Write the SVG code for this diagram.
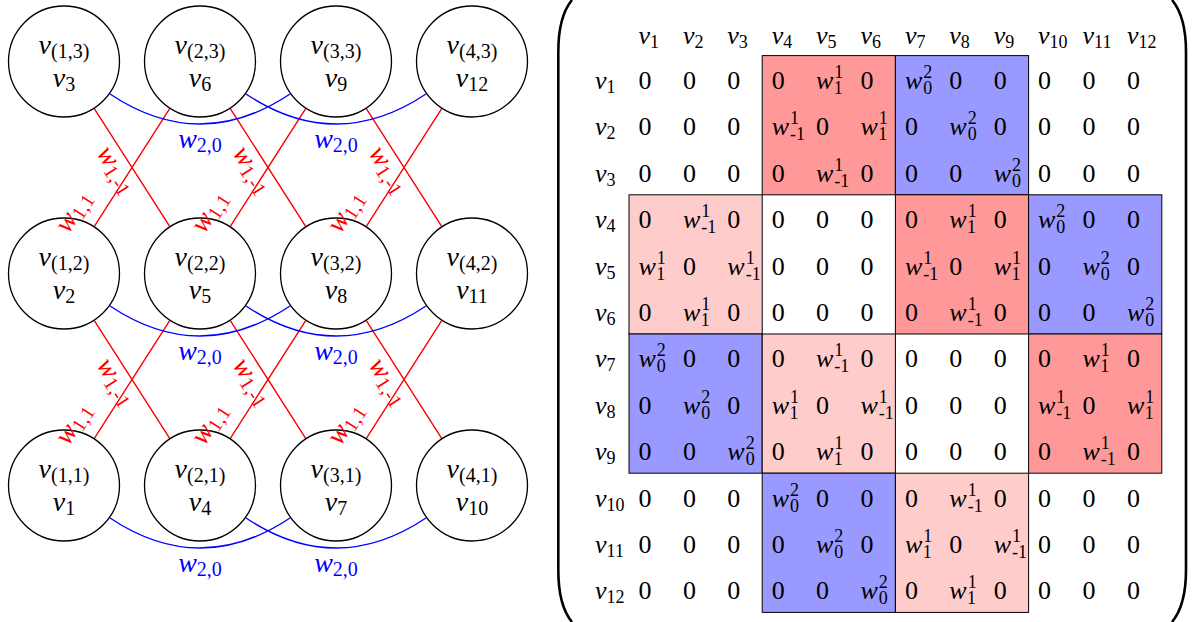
<svg xmlns="http://www.w3.org/2000/svg" width="1195" height="622" viewBox="0 0 1195 622">
<style>
.t{font-family:"Liberation Serif",serif;font-size:26px;fill:#000}
.i{font-style:italic}
.s{font-size:18px;font-style:normal}
.lt{font-family:"Liberation Serif",serif;font-size:28px}
.ls{font-size:20px;font-style:normal}
.nd{fill:#fff;stroke:#000;stroke-width:1.3}
.rl{stroke:#f00;stroke-width:1.4;fill:none}
.bl{stroke:#00f;stroke-width:1.4;fill:none}
.rt{fill:#f00}
.bt{fill:#00f}
.bx{stroke:#000;stroke-width:1}
.dr{fill:#ff9999}
.lb{fill:#9999ff}
.lp{fill:#ffcccc}
.par{fill:none;stroke:#000;stroke-width:2.6}
</style>
<rect width="1195" height="622" fill="#fff"/>
<g id="connectors">
<path class="rl" d="M94,108.2L170,226.8M170,108.2L94,226.8M230,108.2L306,226.8M306,108.2L230,226.8M366,108.2L442,226.8M442,108.2L366,226.8"/>
<path class="rl" d="M94,320.2L170,438.8M170,320.2L94,438.8M230,320.2L306,438.8M306,320.2L230,438.8M366,320.2L442,438.8M442,320.2L366,438.8"/>
<path class="bl" d="M110,94Q200,154 290,94M246,94Q336,154 426,94"/>
<path class="bl" d="M110,306Q200,366 290,306M246,306Q336,366 426,306"/>
<path class="bl" d="M110,518Q200,578 290,518M246,518Q336,578 426,518"/>
</g>
<g id="node-1-3"><circle class="nd" cx="64" cy="61.5" r="55.5"/><text class="lt" x="64" y="53.5" text-anchor="middle"><tspan class="i">v</tspan><tspan class="ls" dy="4">(1,3)</tspan></text><text class="lt" x="64" y="86.5" text-anchor="middle"><tspan class="i">v</tspan><tspan class="ls" dy="4">3</tspan></text></g>
<g id="node-2-3"><circle class="nd" cx="200" cy="61.5" r="55.5"/><text class="lt" x="200" y="53.5" text-anchor="middle"><tspan class="i">v</tspan><tspan class="ls" dy="4">(2,3)</tspan></text><text class="lt" x="200" y="86.5" text-anchor="middle"><tspan class="i">v</tspan><tspan class="ls" dy="4">6</tspan></text></g>
<g id="node-3-3"><circle class="nd" cx="336" cy="61.5" r="55.5"/><text class="lt" x="336" y="53.5" text-anchor="middle"><tspan class="i">v</tspan><tspan class="ls" dy="4">(3,3)</tspan></text><text class="lt" x="336" y="86.5" text-anchor="middle"><tspan class="i">v</tspan><tspan class="ls" dy="4">9</tspan></text></g>
<g id="node-4-3"><circle class="nd" cx="472" cy="61.5" r="55.5"/><text class="lt" x="472" y="53.5" text-anchor="middle"><tspan class="i">v</tspan><tspan class="ls" dy="4">(4,3)</tspan></text><text class="lt" x="472" y="86.5" text-anchor="middle"><tspan class="i">v</tspan><tspan class="ls" dy="4">12</tspan></text></g>
<g id="node-1-2"><circle class="nd" cx="64" cy="273.5" r="55.5"/><text class="lt" x="64" y="265.5" text-anchor="middle"><tspan class="i">v</tspan><tspan class="ls" dy="4">(1,2)</tspan></text><text class="lt" x="64" y="298.5" text-anchor="middle"><tspan class="i">v</tspan><tspan class="ls" dy="4">2</tspan></text></g>
<g id="node-2-2"><circle class="nd" cx="200" cy="273.5" r="55.5"/><text class="lt" x="200" y="265.5" text-anchor="middle"><tspan class="i">v</tspan><tspan class="ls" dy="4">(2,2)</tspan></text><text class="lt" x="200" y="298.5" text-anchor="middle"><tspan class="i">v</tspan><tspan class="ls" dy="4">5</tspan></text></g>
<g id="node-3-2"><circle class="nd" cx="336" cy="273.5" r="55.5"/><text class="lt" x="336" y="265.5" text-anchor="middle"><tspan class="i">v</tspan><tspan class="ls" dy="4">(3,2)</tspan></text><text class="lt" x="336" y="298.5" text-anchor="middle"><tspan class="i">v</tspan><tspan class="ls" dy="4">8</tspan></text></g>
<g id="node-4-2"><circle class="nd" cx="472" cy="273.5" r="55.5"/><text class="lt" x="472" y="265.5" text-anchor="middle"><tspan class="i">v</tspan><tspan class="ls" dy="4">(4,2)</tspan></text><text class="lt" x="472" y="298.5" text-anchor="middle"><tspan class="i">v</tspan><tspan class="ls" dy="4">11</tspan></text></g>
<g id="node-1-1"><circle class="nd" cx="64" cy="485.5" r="55.5"/><text class="lt" x="64" y="477.5" text-anchor="middle"><tspan class="i">v</tspan><tspan class="ls" dy="4">(1,1)</tspan></text><text class="lt" x="64" y="510.5" text-anchor="middle"><tspan class="i">v</tspan><tspan class="ls" dy="4">1</tspan></text></g>
<g id="node-2-1"><circle class="nd" cx="200" cy="485.5" r="55.5"/><text class="lt" x="200" y="477.5" text-anchor="middle"><tspan class="i">v</tspan><tspan class="ls" dy="4">(2,1)</tspan></text><text class="lt" x="200" y="510.5" text-anchor="middle"><tspan class="i">v</tspan><tspan class="ls" dy="4">4</tspan></text></g>
<g id="node-3-1"><circle class="nd" cx="336" cy="485.5" r="55.5"/><text class="lt" x="336" y="477.5" text-anchor="middle"><tspan class="i">v</tspan><tspan class="ls" dy="4">(3,1)</tspan></text><text class="lt" x="336" y="510.5" text-anchor="middle"><tspan class="i">v</tspan><tspan class="ls" dy="4">7</tspan></text></g>
<g id="node-4-1"><circle class="nd" cx="472" cy="485.5" r="55.5"/><text class="lt" x="472" y="477.5" text-anchor="middle"><tspan class="i">v</tspan><tspan class="ls" dy="4">(4,1)</tspan></text><text class="lt" x="472" y="510.5" text-anchor="middle"><tspan class="i">v</tspan><tspan class="ls" dy="4">10</tspan></text></g>
<g id="connector-labels">
<g class="lt rt" text-anchor="middle">
<text transform="translate(113,172) rotate(57.3)" y="4"><tspan class="i">w</tspan><tspan class="ls" dy="4">1,-1</tspan></text>
<text transform="translate(249,172) rotate(57.3)" y="4"><tspan class="i">w</tspan><tspan class="ls" dy="4">1,-1</tspan></text>
<text transform="translate(385,172) rotate(57.3)" y="4"><tspan class="i">w</tspan><tspan class="ls" dy="4">1,-1</tspan></text>
<text transform="translate(113,384) rotate(57.3)" y="4"><tspan class="i">w</tspan><tspan class="ls" dy="4">1,-1</tspan></text>
<text transform="translate(249,384) rotate(57.3)" y="4"><tspan class="i">w</tspan><tspan class="ls" dy="4">1,-1</tspan></text>
<text transform="translate(385,384) rotate(57.3)" y="4"><tspan class="i">w</tspan><tspan class="ls" dy="4">1,-1</tspan></text>
<text transform="translate(77,214) rotate(-57.3)" y="4"><tspan class="i">w</tspan><tspan class="ls" dy="4">1,1</tspan></text>
<text transform="translate(213,214) rotate(-57.3)" y="4"><tspan class="i">w</tspan><tspan class="ls" dy="4">1,1</tspan></text>
<text transform="translate(349,214) rotate(-57.3)" y="4"><tspan class="i">w</tspan><tspan class="ls" dy="4">1,1</tspan></text>
<text transform="translate(77,426) rotate(-57.3)" y="4"><tspan class="i">w</tspan><tspan class="ls" dy="4">1,1</tspan></text>
<text transform="translate(213,426) rotate(-57.3)" y="4"><tspan class="i">w</tspan><tspan class="ls" dy="4">1,1</tspan></text>
<text transform="translate(349,426) rotate(-57.3)" y="4"><tspan class="i">w</tspan><tspan class="ls" dy="4">1,1</tspan></text>
</g>
<g class="lt bt" text-anchor="middle">
<text x="200" y="148"><tspan class="i">w</tspan><tspan class="ls" dy="4">2,0</tspan></text>
<text x="336" y="148"><tspan class="i">w</tspan><tspan class="ls" dy="4">2,0</tspan></text>
<text x="200" y="360"><tspan class="i">w</tspan><tspan class="ls" dy="4">2,0</tspan></text>
<text x="336" y="360"><tspan class="i">w</tspan><tspan class="ls" dy="4">2,0</tspan></text>
<text x="200" y="572"><tspan class="i">w</tspan><tspan class="ls" dy="4">2,0</tspan></text>
<text x="336" y="572"><tspan class="i">w</tspan><tspan class="ls" dy="4">2,0</tspan></text>
</g>
</g>

<g id="matrix">
<path class="par" d="M572,0C562,12 558.3,30 558.3,52L558.3,570C558.3,592 562,610 572,622"/>
<path class="par" d="M1172,0C1182,12 1186,30 1186,52L1186,570C1186,592 1182,610 1172,622"/>
<g id="blocks" class="bx">
<rect class="dr" x="762.2" y="55.6" width="133.2" height="139.2"/>
<rect class="lb" x="895.4" y="55.6" width="133.2" height="139.2"/>
<rect class="lp" x="629" y="194.8" width="133.2" height="139.2"/>
<rect class="dr" x="895.4" y="194.8" width="133.2" height="139.2"/>
<rect class="lb" x="1028.6" y="194.8" width="133.2" height="139.2"/>
<rect class="lb" x="629" y="334" width="133.2" height="139.2"/>
<rect class="lp" x="762.2" y="334" width="133.2" height="139.2"/>
<rect class="dr" x="1028.6" y="334" width="133.2" height="139.2"/>
<rect class="lb" x="762.2" y="473.2" width="133.2" height="139.2"/>
<rect class="lp" x="895.4" y="473.2" width="133.2" height="139.2"/>
</g>
<g class="t">
<g id="header" transform="translate(0,44)">
<text x="638.5"><tspan class="i">v</tspan><tspan class="s" dy="4">1</tspan></text>
<text x="683"><tspan class="i">v</tspan><tspan class="s" dy="4">2</tspan></text>
<text x="727.3"><tspan class="i">v</tspan><tspan class="s" dy="4">3</tspan></text>
<text x="771.7"><tspan class="i">v</tspan><tspan class="s" dy="4">4</tspan></text>
<text x="816"><tspan class="i">v</tspan><tspan class="s" dy="4">5</tspan></text>
<text x="860.5"><tspan class="i">v</tspan><tspan class="s" dy="4">6</tspan></text>
<text x="905"><tspan class="i">v</tspan><tspan class="s" dy="4">7</tspan></text>
<text x="949.3"><tspan class="i">v</tspan><tspan class="s" dy="4">8</tspan></text>
<text x="993.7"><tspan class="i">v</tspan><tspan class="s" dy="4">9</tspan></text>
<text x="1038"><tspan class="i">v</tspan><tspan class="s" dy="4">10</tspan></text>
<text x="1082.5"><tspan class="i">v</tspan><tspan class="s" dy="4">11</tspan></text>
<text x="1127"><tspan class="i">v</tspan><tspan class="s" dy="4">12</tspan></text>
</g>
<g id="r1" transform="translate(0,89)">
<text x="595"><tspan class="i">v</tspan><tspan class="s" dy="4">1</tspan></text>
<text x="638.5">0</text><text x="683">0</text><text x="727.3">0</text><text x="771.7">0</text>
<text x="816"><tspan class="i">w</tspan><tspan class="s" dx="1" dy="-11">1</tspan><tspan class="s" dx="-9" dy="16">1</tspan></text>
<text x="860.5">0</text>
<text x="905"><tspan class="i">w</tspan><tspan class="s" dx="1" dy="-11">2</tspan><tspan class="s" dx="-9" dy="16">0</tspan></text>
<text x="949.3">0</text><text x="993.7">0</text><text x="1038">0</text><text x="1082.5">0</text><text x="1127">0</text>
</g>
<g id="r2" transform="translate(0,135.4)">
<text x="595"><tspan class="i">v</tspan><tspan class="s" dy="4">2</tspan></text>
<text x="638.5">0</text><text x="683">0</text><text x="727.3">0</text>
<text x="771.7"><tspan class="i">w</tspan><tspan class="s" dx="1" dy="-11">1</tspan><tspan class="s" dx="-9" dy="16">-1</tspan></text>
<text x="816">0</text>
<text x="860.5"><tspan class="i">w</tspan><tspan class="s" dx="1" dy="-11">1</tspan><tspan class="s" dx="-9" dy="16">1</tspan></text>
<text x="905">0</text>
<text x="949.3"><tspan class="i">w</tspan><tspan class="s" dx="1" dy="-11">2</tspan><tspan class="s" dx="-9" dy="16">0</tspan></text>
<text x="993.7">0</text><text x="1038">0</text><text x="1082.5">0</text><text x="1127">0</text>
</g>
<g id="r3" transform="translate(0,181.8)">
<text x="595"><tspan class="i">v</tspan><tspan class="s" dy="4">3</tspan></text>
<text x="638.5">0</text><text x="683">0</text><text x="727.3">0</text><text x="771.7">0</text>
<text x="816"><tspan class="i">w</tspan><tspan class="s" dx="1" dy="-11">1</tspan><tspan class="s" dx="-9" dy="16">-1</tspan></text>
<text x="860.5">0</text><text x="905">0</text><text x="949.3">0</text>
<text x="993.7"><tspan class="i">w</tspan><tspan class="s" dx="1" dy="-11">2</tspan><tspan class="s" dx="-9" dy="16">0</tspan></text>
<text x="1038">0</text><text x="1082.5">0</text><text x="1127">0</text>
</g>
<g id="r4" transform="translate(0,228.2)">
<text x="595"><tspan class="i">v</tspan><tspan class="s" dy="4">4</tspan></text>
<text x="638.5">0</text>
<text x="683"><tspan class="i">w</tspan><tspan class="s" dx="1" dy="-11">1</tspan><tspan class="s" dx="-9" dy="16">-1</tspan></text>
<text x="727.3">0</text><text x="771.7">0</text><text x="816">0</text><text x="860.5">0</text><text x="905">0</text>
<text x="949.3"><tspan class="i">w</tspan><tspan class="s" dx="1" dy="-11">1</tspan><tspan class="s" dx="-9" dy="16">1</tspan></text>
<text x="993.7">0</text>
<text x="1038"><tspan class="i">w</tspan><tspan class="s" dx="1" dy="-11">2</tspan><tspan class="s" dx="-9" dy="16">0</tspan></text>
<text x="1082.5">0</text><text x="1127">0</text>
</g>
<g id="r5" transform="translate(0,274.6)">
<text x="595"><tspan class="i">v</tspan><tspan class="s" dy="4">5</tspan></text>
<text x="638.5"><tspan class="i">w</tspan><tspan class="s" dx="1" dy="-11">1</tspan><tspan class="s" dx="-9" dy="16">1</tspan></text>
<text x="683">0</text>
<text x="727.3"><tspan class="i">w</tspan><tspan class="s" dx="1" dy="-11">1</tspan><tspan class="s" dx="-9" dy="16">-1</tspan></text>
<text x="771.7">0</text><text x="816">0</text><text x="860.5">0</text>
<text x="905"><tspan class="i">w</tspan><tspan class="s" dx="1" dy="-11">1</tspan><tspan class="s" dx="-9" dy="16">-1</tspan></text>
<text x="949.3">0</text>
<text x="993.7"><tspan class="i">w</tspan><tspan class="s" dx="1" dy="-11">1</tspan><tspan class="s" dx="-9" dy="16">1</tspan></text>
<text x="1038">0</text>
<text x="1082.5"><tspan class="i">w</tspan><tspan class="s" dx="1" dy="-11">2</tspan><tspan class="s" dx="-9" dy="16">0</tspan></text>
<text x="1127">0</text>
</g>
<g id="r6" transform="translate(0,321)">
<text x="595"><tspan class="i">v</tspan><tspan class="s" dy="4">6</tspan></text>
<text x="638.5">0</text>
<text x="683"><tspan class="i">w</tspan><tspan class="s" dx="1" dy="-11">1</tspan><tspan class="s" dx="-9" dy="16">1</tspan></text>
<text x="727.3">0</text><text x="771.7">0</text><text x="816">0</text><text x="860.5">0</text><text x="905">0</text>
<text x="949.3"><tspan class="i">w</tspan><tspan class="s" dx="1" dy="-11">1</tspan><tspan class="s" dx="-9" dy="16">-1</tspan></text>
<text x="993.7">0</text><text x="1038">0</text><text x="1082.5">0</text>
<text x="1127"><tspan class="i">w</tspan><tspan class="s" dx="1" dy="-11">2</tspan><tspan class="s" dx="-9" dy="16">0</tspan></text>
</g>
<g id="r7" transform="translate(0,367.4)">
<text x="595"><tspan class="i">v</tspan><tspan class="s" dy="4">7</tspan></text>
<text x="638.5"><tspan class="i">w</tspan><tspan class="s" dx="1" dy="-11">2</tspan><tspan class="s" dx="-9" dy="16">0</tspan></text>
<text x="683">0</text><text x="727.3">0</text><text x="771.7">0</text>
<text x="816"><tspan class="i">w</tspan><tspan class="s" dx="1" dy="-11">1</tspan><tspan class="s" dx="-9" dy="16">-1</tspan></text>
<text x="860.5">0</text><text x="905">0</text><text x="949.3">0</text><text x="993.7">0</text><text x="1038">0</text>
<text x="1082.5"><tspan class="i">w</tspan><tspan class="s" dx="1" dy="-11">1</tspan><tspan class="s" dx="-9" dy="16">1</tspan></text>
<text x="1127">0</text>
</g>
<g id="r8" transform="translate(0,413.8)">
<text x="595"><tspan class="i">v</tspan><tspan class="s" dy="4">8</tspan></text>
<text x="638.5">0</text>
<text x="683"><tspan class="i">w</tspan><tspan class="s" dx="1" dy="-11">2</tspan><tspan class="s" dx="-9" dy="16">0</tspan></text>
<text x="727.3">0</text>
<text x="771.7"><tspan class="i">w</tspan><tspan class="s" dx="1" dy="-11">1</tspan><tspan class="s" dx="-9" dy="16">1</tspan></text>
<text x="816">0</text>
<text x="860.5"><tspan class="i">w</tspan><tspan class="s" dx="1" dy="-11">1</tspan><tspan class="s" dx="-9" dy="16">-1</tspan></text>
<text x="905">0</text><text x="949.3">0</text><text x="993.7">0</text>
<text x="1038"><tspan class="i">w</tspan><tspan class="s" dx="1" dy="-11">1</tspan><tspan class="s" dx="-9" dy="16">-1</tspan></text>
<text x="1082.5">0</text>
<text x="1127"><tspan class="i">w</tspan><tspan class="s" dx="1" dy="-11">1</tspan><tspan class="s" dx="-9" dy="16">1</tspan></text>
</g>
<g id="r9" transform="translate(0,460.2)">
<text x="595"><tspan class="i">v</tspan><tspan class="s" dy="4">9</tspan></text>
<text x="638.5">0</text><text x="683">0</text>
<text x="727.3"><tspan class="i">w</tspan><tspan class="s" dx="1" dy="-11">2</tspan><tspan class="s" dx="-9" dy="16">0</tspan></text>
<text x="771.7">0</text>
<text x="816"><tspan class="i">w</tspan><tspan class="s" dx="1" dy="-11">1</tspan><tspan class="s" dx="-9" dy="16">1</tspan></text>
<text x="860.5">0</text><text x="905">0</text><text x="949.3">0</text><text x="993.7">0</text><text x="1038">0</text>
<text x="1082.5"><tspan class="i">w</tspan><tspan class="s" dx="1" dy="-11">1</tspan><tspan class="s" dx="-9" dy="16">-1</tspan></text>
<text x="1127">0</text>
</g>
<g id="r10" transform="translate(0,506.6)">
<text x="595"><tspan class="i">v</tspan><tspan class="s" dy="4">10</tspan></text>
<text x="638.5">0</text><text x="683">0</text><text x="727.3">0</text>
<text x="771.7"><tspan class="i">w</tspan><tspan class="s" dx="1" dy="-11">2</tspan><tspan class="s" dx="-9" dy="16">0</tspan></text>
<text x="816">0</text><text x="860.5">0</text><text x="905">0</text>
<text x="949.3"><tspan class="i">w</tspan><tspan class="s" dx="1" dy="-11">1</tspan><tspan class="s" dx="-9" dy="16">-1</tspan></text>
<text x="993.7">0</text><text x="1038">0</text><text x="1082.5">0</text><text x="1127">0</text>
</g>
<g id="r11" transform="translate(0,553)">
<text x="595"><tspan class="i">v</tspan><tspan class="s" dy="4">11</tspan></text>
<text x="638.5">0</text><text x="683">0</text><text x="727.3">0</text><text x="771.7">0</text>
<text x="816"><tspan class="i">w</tspan><tspan class="s" dx="1" dy="-11">2</tspan><tspan class="s" dx="-9" dy="16">0</tspan></text>
<text x="860.5">0</text>
<text x="905"><tspan class="i">w</tspan><tspan class="s" dx="1" dy="-11">1</tspan><tspan class="s" dx="-9" dy="16">1</tspan></text>
<text x="949.3">0</text>
<text x="993.7"><tspan class="i">w</tspan><tspan class="s" dx="1" dy="-11">1</tspan><tspan class="s" dx="-9" dy="16">-1</tspan></text>
<text x="1038">0</text><text x="1082.5">0</text><text x="1127">0</text>
</g>
<g id="r12" transform="translate(0,599.4)">
<text x="595"><tspan class="i">v</tspan><tspan class="s" dy="4">12</tspan></text>
<text x="638.5">0</text><text x="683">0</text><text x="727.3">0</text><text x="771.7">0</text><text x="816">0</text>
<text x="860.5"><tspan class="i">w</tspan><tspan class="s" dx="1" dy="-11">2</tspan><tspan class="s" dx="-9" dy="16">0</tspan></text>
<text x="905">0</text>
<text x="949.3"><tspan class="i">w</tspan><tspan class="s" dx="1" dy="-11">1</tspan><tspan class="s" dx="-9" dy="16">1</tspan></text>
<text x="993.7">0</text><text x="1038">0</text><text x="1082.5">0</text><text x="1127">0</text>
</g>
</g>
</g>
</svg>
